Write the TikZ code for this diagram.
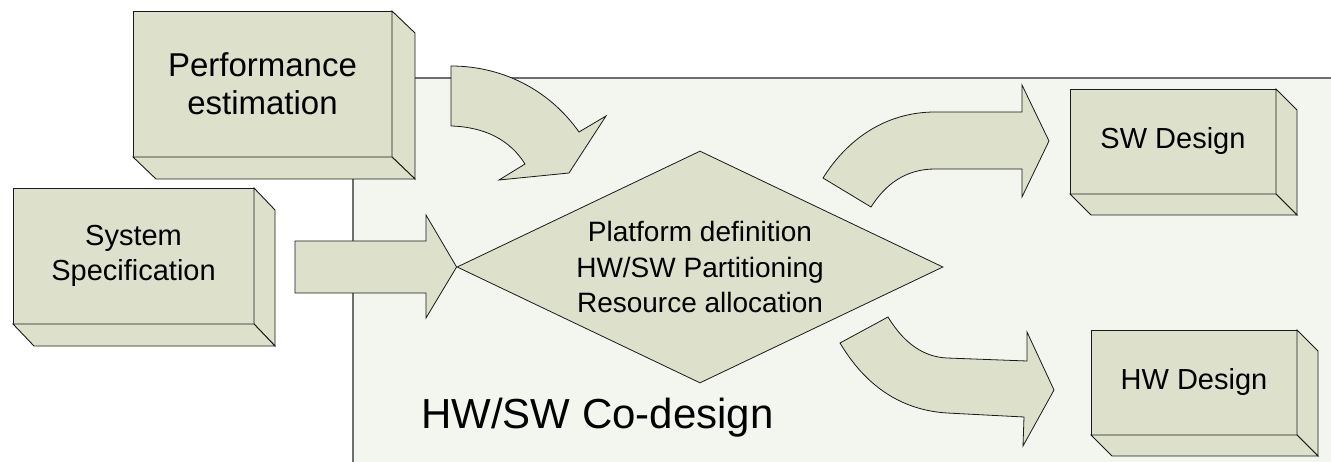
\documentclass[tikz,border=0pt]{standalone}
\usepackage{fontspec}
\setmainfont{Liberation Sans}
\usetikzlibrary{calc,shapes.geometric}

\definecolor{slabfill}{HTML}{DDE0CB}
\definecolor{panelfill}{HTML}{F3F6EF}
\definecolor{panelrule}{HTML}{6E6E6E}
\definecolor{edge}{HTML}{1A1A1A}

\tikzset{
  slabfront/.style={draw=edge, fill=slabfill, line width=0.9pt, inner sep=0pt, outer sep=0pt, align=center},
  slabface/.style={draw=edge, fill=slabfill, line width=0.9pt, line join=miter},
  blockarrow/.style={draw=edge, fill=slabfill, line width=0.8pt, line join=miter},
  coreshape/.style={diamond, draw=edge, fill=slabfill, line width=0.8pt, inner sep=0pt, minimum width=486pt, minimum height=232pt},
}

% side and bottom faces of an extruded box: node name, depth dx, depth dy
\newcommand\slabdepth[3]{%
  \filldraw[slabface] (#1.north east) -- ($(#1.north east)+(#2,#3)$) -- ($(#1.south east)+(#2,#3)$) -- (#1.south east) -- cycle;
  \filldraw[slabface] (#1.south west) -- ($(#1.south west)+(#2,#3)$) -- ($(#1.south east)+(#2,#3)$) -- (#1.south east) -- cycle;
}

\begin{document}
\begin{tikzpicture}[x=1pt, y=-1pt]
\useasboundingbox (0,0) rectangle (1331,462);

% co-design area
\fill[panelfill] (353,78) rectangle (1331,462);
\draw[panelrule, line width=1.4pt] (1331,78) -- (353,78) -- (353,462);

% performance estimation
\node[slabfront, minimum width=259pt, minimum height=146pt,
      font=\fontsize{33}{38}\selectfont] (perf) at (262.5,84) {Performance\\estimation};
\slabdepth{perf}{23}{22}

% system specification
\node[slabfront, minimum width=241pt, minimum height=136pt,
      font=\fontsize{29}{35}\selectfont] (spec) at (133.5,256) {System\\Specification};
\slabdepth{spec}{21}{22}

% SW design
\node[slabfront, minimum width=206pt, minimum height=105pt,
      font=\fontsize{29}{35}\selectfont] (sw) at (1173,141.5) {SW Design};
\slabdepth{sw}{21}{21}

% HW design
\node[slabfront, minimum width=206pt, minimum height=105pt,
      font=\fontsize{29}{35}\selectfont] (hw) at (1194,382.5) {HW Design};
\slabdepth{hw}{21}{21}

% decision diamond
\node[coreshape] (core) at (700,267) {};
\node[align=center, font=\fontsize{28}{35.5}\selectfont] (coretext) at (core.center) {Platform definition\\HW/SW Partitioning\\Resource allocation};

% straight arrow: specification -> diamond
\coordinate (a1s) at ($(spec.east)+(41,-15)$);
\filldraw[blockarrow] (a1s) -- ++(131,0) -- ++(0,-26) -- (core.west) -- (426,318) -- (426,293) -- (295,293) -- cycle;

% curved arrow: performance estimation -> diamond
\filldraw[blockarrow] (451,66) .. controls (500,66) and (548,88) .. (579,132)
  -- (606,116) -- (569,173) -- (499,180) -- (525,164)
  .. controls (510,140) and (485,127) .. (451,126) -- cycle;

% curved arrow: diamond -> SW design
\filldraw[blockarrow] (823,178) .. controls (850,135) and (890,112) .. (935,112)
  -- (1022,112) -- (1022,85) -- (1049,141) -- (1022,197) -- (1022,169) -- (935,169)
  .. controls (905,169) and (885,185) .. (871,207) -- cycle;

% curved arrow: diamond -> HW design
\filldraw[blockarrow] (888,317) .. controls (905,345) and (925,357) .. (947,358)
  -- (1027,361) -- (1027,332) -- (1054,390) -- (1023,446) -- (1024,417) -- (947,413)
  .. controls (900,410) and (865,385) .. (840,343) -- cycle;

% area caption
\node[anchor=base west, inner sep=0pt, font=\fontsize{42}{48}\selectfont] (codesign) at (421,428) {HW/SW Co-design};
\end{tikzpicture}
\end{document}
